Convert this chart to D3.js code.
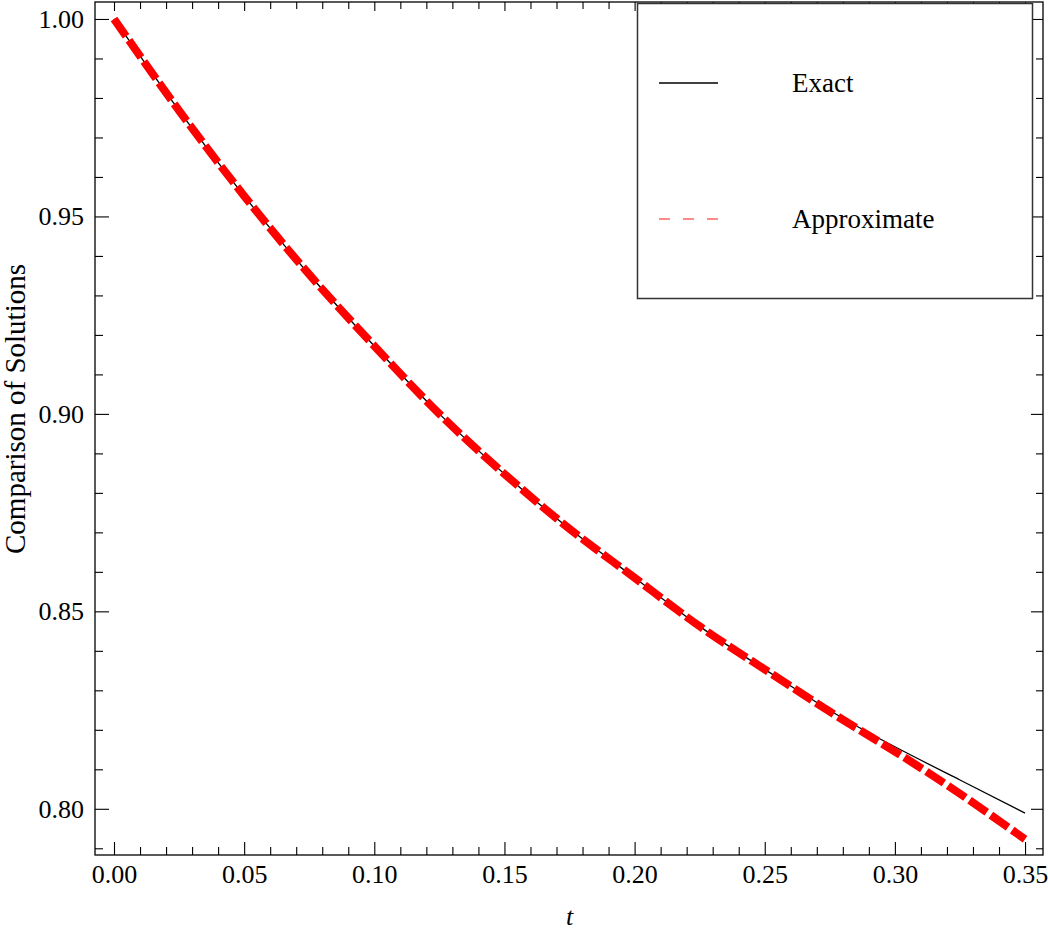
<!DOCTYPE html>
<html>
<head>
<meta charset="utf-8">
<script src="https://cdnjs.cloudflare.com/ajax/libs/d3/7.8.5/d3.min.js"></script>
<style>
  body { margin: 0; background: #fff; }
  svg text { font-family: "Liberation Serif", "Times New Roman", serif; fill: #000; }
</style>
</head>
<body>
<div id="chart"></div>
<script>

// values
var tValues = [0, 0.025, 0.05, 0.075, 0.10, 0.125, 0.15, 0.175, 0.20, 0.225, 0.25, 0.275, 0.30, 0.325, 0.35];
var exactValues = [1.0000, 0.9768, 0.9552, 0.9353, 0.9172, 0.9000, 0.8848, 0.8709, 0.8585, 0.8462, 0.8353, 0.8249, 0.8157, 0.8073, 0.7989];
var approxValues = [1.0000, 0.9768, 0.9552, 0.9353, 0.9172, 0.9000, 0.8848, 0.8709, 0.8585, 0.8462, 0.8353, 0.8246, 0.8145, 0.8038, 0.7923];

var xMajor = [0, 0.05, 0.10, 0.15, 0.20, 0.25, 0.30, 0.35];
var xMinor = d3.range(0, 36).map(function(i) { return i / 100; }).filter(function(v) { return Math.round(v * 100) % 5 !== 0; });
var yMajor = [0.80, 0.85, 0.90, 0.95, 1.00];
var yMinor = d3.range(79, 101).map(function(i) { return i / 100; }).filter(function(v) { return Math.round(v * 100) % 5 !== 0; });

var seriesNames = ['Exact', 'Approximate'];

(function() {

var width = 1048, height = 932;
var frameLeft = 95, frameRight = 1043, frameTop = 2, frameBottom = 855;

var svg = d3.select('#chart').append('svg')
	.attr('width', width)
	.attr('height', height);

var x = d3.scaleLinear().domain([-0.0073, 0.3569]).range([frameLeft, frameRight]);
var y = d3.scaleLinear().domain([0.7883, 1.0043]).range([frameBottom, frameTop]);

function styleAxis(g) {
	g.select('.domain').remove();
	g.selectAll('line').attr('stroke', '#000').attr('stroke-width', 1.1);
	g.selectAll('text').style('font-size', '26px').style('font-family', '"Liberation Serif", serif');
}

// bottom
svg.append('g').attr('transform', 'translate(0,' + frameBottom + ')')
	.call(d3.axisBottom(x).tickValues(xMajor).tickSize(-13).tickPadding(10).tickFormat(d3.format('.2f')))
	.call(styleAxis);
svg.append('g').attr('transform', 'translate(0,' + frameBottom + ')')
	.call(d3.axisBottom(x).tickValues(xMinor).tickSize(-8).tickFormat(''))
	.call(styleAxis);
// top
svg.append('g').attr('transform', 'translate(0,' + frameTop + ')')
	.call(d3.axisTop(x).tickValues(xMajor).tickSize(-9).tickFormat(''))
	.call(styleAxis);
svg.append('g').attr('transform', 'translate(0,' + frameTop + ')')
	.call(d3.axisTop(x).tickValues(xMinor).tickSize(-7).tickFormat(''))
	.call(styleAxis);
// left
svg.append('g').attr('transform', 'translate(' + frameLeft + ',0)')
	.call(d3.axisLeft(y).tickValues(yMajor).tickSize(-14).tickPadding(11).tickFormat(d3.format('.2f')))
	.call(styleAxis);
svg.append('g').attr('transform', 'translate(' + frameLeft + ',0)')
	.call(d3.axisLeft(y).tickValues(yMinor).tickSize(-8).tickFormat(''))
	.call(styleAxis);
// right
svg.append('g').attr('transform', 'translate(' + frameRight + ',0)')
	.call(d3.axisRight(y).tickValues(yMajor).tickSize(-12).tickFormat(''))
	.call(styleAxis);
svg.append('g').attr('transform', 'translate(' + frameRight + ',0)')
	.call(d3.axisRight(y).tickValues(yMinor).tickSize(-7).tickFormat(''))
	.call(styleAxis);

// frame
svg.append('rect')
	.attr('x', frameLeft).attr('y', frameTop)
	.attr('width', frameRight - frameLeft).attr('height', frameBottom - frameTop)
	.attr('fill', 'none').attr('stroke', '#000').attr('stroke-width', 1.3);

var line = d3.line()
	.x(function(d) { return x(d[0]); })
	.y(function(d) { return y(d[1]); })
	.curve(d3.curveNatural);

var exactData = tValues.map(function(t, i) { return [t, exactValues[i]]; });
var approxData = tValues.map(function(t, i) { return [t, approxValues[i]]; });

svg.append('path')
	.datum(exactData)
	.attr('d', line)
	.attr('fill', 'none')
	.attr('stroke', '#000')
	.attr('stroke-width', 1.3);

svg.append('path')
	.datum(approxData)
	.attr('d', line)
	.attr('fill', 'none')
	.attr('stroke', '#ff0000')
	.attr('stroke-width', 8)
	.attr('stroke-dasharray', '21,5');

// axis titles
svg.append('text')
	.attr('x', x(0.175)).attr('y', 925)
	.attr('text-anchor', 'middle')
	.style('font-size', '26px').style('font-style', 'italic')
	.text('t');

svg.append('text')
	.attr('transform', 'translate(25,409) rotate(-90)')
	.attr('text-anchor', 'middle')
	.style('font-size', '29px')
	.text('Comparison of Solutions');

// legend
var legend = svg.append('g');
legend.append('rect')
	.attr('x', 637.5).attr('y', 3.5).attr('width', 395).attr('height', 295)
	.attr('fill', '#fff').attr('stroke', '#333').attr('stroke-width', 1.5);

var legendRows = [
	{ name: seriesNames[0], y: 83, color: '#000', dash: null, width: 1.3 },
	{ name: seriesNames[1], y: 219, color: '#ff6464', dash: '11,13', width: 1.4 }
];
legendRows.forEach(function(r) {
	legend.append('line')
		.attr('x1', 659).attr('x2', 718).attr('y1', r.y).attr('y2', r.y)
		.attr('stroke', r.color).attr('stroke-width', r.width)
		.attr('stroke-dasharray', r.dash);
	legend.append('text')
		.attr('x', 792).attr('y', r.y + 9)
		.style('font-size', '27px')
		.text(r.name);
});

})();

</script>
</body>
</html>
